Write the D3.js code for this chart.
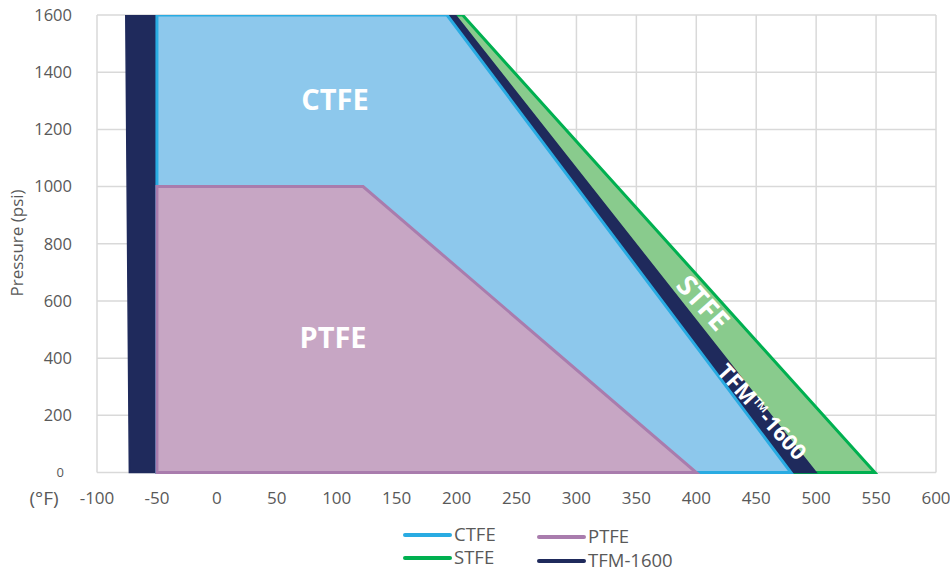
<!DOCTYPE html>
<html><head><meta charset="utf-8">
<script src="https://cdn.jsdelivr.net/npm/d3@7"></script>
<style>body{margin:0;background:#fff}svg{display:block}text{font-family:"Open Sans",sans-serif}</style>
</head><body><svg id="c" width="950" height="571"></svg>
<script>
// Data (temperature °F, pressure psi)
const xTicks = [-100,-50,0,50,100,150,200,250,300,350,400,450,500,550,600];
const yTicks = [200,400,600,800,1000,1200,1400,1600];
const stfeT = [-50,-50,205,549];
const stfeP = [0,1600,1600,0];
const tfmT = [-73,-76,199,500];
const tfmP = [0,1600,1600,0];
const ctfeT = [-50,-50,192,479];
const ctfeP = [0,1600,1600,0];
const ptfeT = [-50,-50,122,400];
const ptfeP = [0,1000,1000,0];
const seriesNames = ["CTFE","PTFE","STFE","TFM-1600"];

const svg = d3.select("#c");
const x = d3.scaleLinear().domain([-100,600]).range([97,936]);
const y = d3.scaleLinear().domain([0,1600]).range([472.5,15]);
const txt = "#595959", grid = "#D9D9D9";

svg.append("defs").append("clipPath").attr("id","clip").append("rect")
  .attr("x",0).attr("y",y(1600)).attr("width",950).attr("height",480);

// grid
const g = svg.append("g");
g.selectAll(".v").data(xTicks).enter().append("line")
  .attr("x1",d=>x(d)).attr("x2",d=>x(d)).attr("y1",y(0)).attr("y2",y(1600))
  .attr("stroke",grid).attr("stroke-width",1.5);
g.selectAll(".h").data([0].concat(yTicks)).enter().append("line")
  .attr("x1",x(-100)).attr("x2",x(600)).attr("y1",d=>y(d)).attr("y2",d=>y(d))
  .attr("stroke",grid).attr("stroke-width",1.5);

const line = d3.line().x(d=>x(d[0])).y(d=>y(d[1]));
const pg = svg.append("g").attr("clip-path","url(#clip)");
function poly(T,P,fill,stroke,sw){
  const pts = T.map((t,i)=>[t,P[i]]);
  pg.append("path").attr("d",line(pts)+"Z").attr("fill",fill)
    .attr("stroke",stroke).attr("stroke-width",sw).attr("stroke-linejoin","miter");
}
poly(stfeT,stfeP,"#89CB8D","#00B050",3);
poly(tfmT,tfmP,"#1F2A5C","#1F2A5C",1.5);
poly(ctfeT,ctfeP,"#8DC8EC","#29ABE2",3);
poly(ptfeT,ptfeP,"#C7A6C4","#A97CAD",3);

// y tick labels
svg.selectAll(".yl").data(yTicks).enter().append("text")
  .attr("x",72).attr("y",d=>y(d)).attr("dy","0.35em").attr("text-anchor","end")
  .attr("fill",txt).attr("font-size",16.5).text(d=>d);
svg.append("text").attr("x",64).attr("y",y(0)).attr("dy","0.35em").attr("text-anchor","end")
  .attr("fill",txt).attr("font-size",13).text("0");
// x tick labels
svg.selectAll(".xl").data(xTicks).enter().append("text")
  .attr("x",d=>x(d)).attr("y",498).attr("dy","0.35em").attr("text-anchor","middle")
  .attr("fill",txt).attr("font-size",17).text(d=>d);
svg.append("text").attr("x",44).attr("y",498).attr("dy","0.35em").attr("text-anchor","middle")
  .attr("fill",txt).attr("font-size",19).text("(°F)");
svg.append("text").attr("transform","translate(17,243) rotate(-90)").attr("text-anchor","middle")
  .attr("dy","0.35em").attr("fill",txt).attr("font-size",17).text("Pressure (psi)");

// area labels
const lab = (t,xx,yy,fs,rot)=>svg.append("text")
  .attr("transform",`translate(${xx},${yy}) rotate(${rot})`).attr("text-anchor","middle")
  .attr("dy","0.35em").attr("fill","#fff").attr("font-weight","bold").attr("font-size",fs).text(t);
lab("CTFE",335,100,29,0);
lab("PTFE",333,338,29,0);
const ang = Math.atan2(y(0)-y(1600), x(549)-x(205))*180/Math.PI;
lab("STFE",703,303,28,ang);
lab("TFM™-1600",762,412,22,ang);

// legend
const leg = [
  {n:seriesNames[0],c:"#29ABE2",x:405,y:535},
  {n:seriesNames[1],c:"#A97CAD",x:539,y:537},
  {n:seriesNames[2],c:"#00B050",x:405,y:558},
  {n:seriesNames[3],c:"#1F2A5C",x:539,y:561}
];
const lg = svg.selectAll(".lg").data(leg).enter().append("g");
lg.append("line").attr("x1",d=>d.x).attr("x2",d=>d.x+45).attr("y1",d=>d.y).attr("y2",d=>d.y)
  .attr("stroke",d=>d.c).attr("stroke-width",4).attr("stroke-linecap","round");
lg.append("text").attr("x",d=>d.x+49).attr("y",d=>d.y).attr("dy","0.35em")
  .attr("fill",txt).attr("font-size",18.5).text(d=>d.n);
</script></body></html>
